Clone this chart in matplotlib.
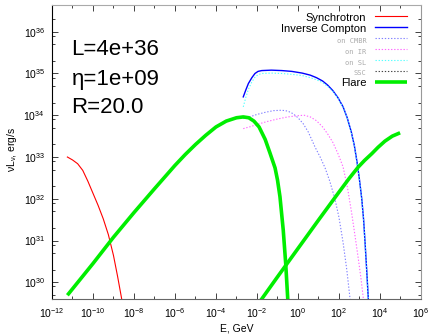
import numpy as np
import matplotlib
matplotlib.use("Agg")
import matplotlib.pyplot as plt
from matplotlib.ticker import LogLocator, FuncFormatter, NullFormatter

plt.rcParams["font.family"] = ["Liberation Sans", "DejaVu Sans"]
plt.rcParams["mathtext.fontset"] = "custom"
plt.rcParams["mathtext.rm"] = "Liberation Sans"
plt.rcParams["mathtext.it"] = "Liberation Sans:italic"
plt.rcParams["mathtext.default"] = "regular"

# Spectral components: log10(E / GeV) and log10(nu L_nu / erg s^-1)
sync_logE = [-11.25, -11.0, -10.75, -10.5, -10.25, -10.0, -9.75, -9.5, -9.25,
             -9.0, -8.8, -8.6, -8.5]
sync_logL = [33.00, 32.93, 32.84, 32.68, 32.42, 32.13, 31.84, 31.52, 31.14,
             30.64, 30.14, 29.6, 29.3]

ic_logE = [-2.67, -2.55, -2.42, -2.25, -2.1, -1.95, -1.77, -1.3, -0.79, -0.3,
           0.2, 0.6, 0.9, 1.2, 1.45, 1.7, 1.95, 2.2, 2.4, 2.6, 2.75, 2.88,
           3.0, 3.11, 3.2, 3.27, 3.35, 3.43, 3.48]
ic_logL = [34.44, 34.60, 34.76, 34.90, 35.00, 35.05, 35.07, 35.08, 35.07,
           35.05, 35.01, 34.96, 34.90, 34.82, 34.72, 34.59, 34.42, 34.20,
           33.94, 33.60, 33.27, 32.88, 32.45, 32.0, 31.5, 30.96, 30.3, 29.6,
           29.2]

cmbr_logE = [-2.67, -2.3, -2.0, -1.6, -1.2, -0.79, -0.5, -0.25, 0.0, 0.25,
             0.5, 0.83, 1.1, 1.32, 1.55, 1.8, 2.0, 2.2, 2.38, 2.54, 2.62]
cmbr_logL = [33.92, 33.97, 34.02, 34.07, 34.11, 34.12, 34.10, 34.04, 33.94,
             33.80, 33.60, 33.24, 32.98, 32.74, 32.42, 32.0, 31.55, 30.95,
             30.3, 29.6, 29.25]

ir_logE = [-2.67, -2.3, -2.0, -1.5, -1.0, -0.5, 0.0, 0.3, 0.6, 0.9, 1.2,
           1.45, 1.7, 1.95, 2.2, 2.42, 2.62, 2.8, 2.94, 3.07, 3.19, 3.25]
ir_logL = [33.68, 33.73, 33.78, 33.85, 33.91, 33.96, 33.99, 34.0, 33.96,
           33.87, 33.72, 33.55, 33.35, 33.08, 32.76, 32.25, 31.65, 31.05,
           30.57, 30.1, 29.6, 29.3]

sl_logE = [-2.67, -2.55, -2.42, -2.25, -2.1, -1.95, -1.77, -1.3, -0.79, -0.3,
           0.2, 0.6, 0.9, 1.2, 1.45, 1.7, 1.95, 2.2, 2.4, 2.6, 2.75, 2.88,
           3.0, 3.11, 3.2, 3.27, 3.35, 3.43, 3.48]
sl_logL = [34.20, 34.42, 34.62, 34.80, 34.91, 34.97, 35.00, 35.01, 35.00,
           34.98, 34.95, 34.90, 34.85, 34.78, 34.69, 34.57, 34.41, 34.19,
           33.93, 33.59, 33.26, 32.87, 32.44, 31.99, 31.49, 30.95, 30.29,
           29.59, 29.19]

flare1_logE = [-11.25, -10.0, -9.0, -8.0, -7.0, -6.0, -5.5, -5.0, -4.5, -4.0,
               -3.5, -3.0, -2.67, -2.4, -2.15, -1.9, -1.6, -1.37, -1.12, -1.0,
               -0.88, -0.72, -0.6, -0.5, -0.46]
flare1_logL = [29.69, 30.45, 31.08, 31.67, 32.24, 32.80, 33.06, 33.30, 33.52,
               33.72, 33.86, 33.94, 33.96, 33.94, 33.86, 33.72, 33.42, 33.10,
               32.74, 32.45, 32.05, 31.25, 30.45, 29.6, 29.3]

flare2_logE = [-1.95, -1.77, -1.0, 0.0, 1.0, 2.0, 2.5, 2.94, 3.25, 3.6, 3.9,
               4.24, 4.6, 4.98]
flare2_logL = [29.48, 29.6, 30.13, 30.81, 31.49, 32.16, 32.49, 32.76, 32.92,
               33.08, 33.23, 33.38, 33.50, 33.58]

params_text = ["L=4e+36", "\u03b7=1e+09", "R=20.0"]

fig = plt.figure(figsize=(4.31, 3.35), dpi=100)
ax = fig.add_axes([52 / 431, 1 - 299 / 335, 369 / 431, 294 / 335])


def pw(a):
    return 10.0 ** np.asarray(a)


dots = (0, (1.2, 1.6))
ax.plot(pw(sync_logE), pw(sync_logL), color="#ff0000", lw=0.8,
        label="Synchrotron")
ax.plot(pw(ic_logE), pw(ic_logL), color="#0000ff", lw=1.0,
        label="Inverse Compton")
ax.plot(pw(cmbr_logE), pw(cmbr_logL), color="#8080ff", lw=0.8, ls=dots,
        label="on CMBR")
ax.plot(pw(ir_logE), pw(ir_logL), color="#ff66ff", lw=0.8, ls=dots,
        label="on IR")
ax.plot(pw(sl_logE), pw(sl_logL), color="#55ffff", lw=0.8, ls=dots,
        label="on SL")
ax.plot([], [], color="#444444", lw=0.8, ls=dots, label="SSC")
ax.plot(pw(flare1_logE), pw(flare1_logL), color="#00ee00", lw=2.6,
        label="Flare", solid_capstyle="butt")
ax.plot(pw(flare2_logE), pw(flare2_logL), color="#00ee00", lw=2.6,
        solid_capstyle="butt")

ax.set_xscale("log")
ax.set_yscale("log")
ax.set_xlim(1e-12, 1e6)
ax.set_ylim(10 ** 29.6, 10 ** 36.64)

fmt = FuncFormatter(lambda v, p: r"$10^{%d}$" % round(np.log10(v)))
ax.xaxis.set_major_locator(LogLocator(base=100.0, numticks=20))
ax.xaxis.set_minor_locator(LogLocator(base=100.0, subs=(10.0,), numticks=20))
ax.xaxis.set_major_formatter(fmt)
ax.xaxis.set_minor_formatter(NullFormatter())
ax.yaxis.set_major_locator(LogLocator(base=10.0, numticks=20))
ax.yaxis.set_minor_locator(LogLocator(base=10.0, subs=(2.0, 5.0, 8.0),
                                      numticks=20))
ax.yaxis.set_major_formatter(fmt)
ax.yaxis.set_minor_formatter(NullFormatter())

ax.tick_params(which="both", direction="in", top=True, right=True,
               labelsize=7.5, width=0.6, color="#222222")
ax.tick_params(which="major", length=4.0, pad=5)
ax.tick_params(which="minor", length=2.2)

ax.spines["left"].set_color("#000000")
ax.spines["bottom"].set_color("#666666")
ax.spines["top"].set_color("#aaaaaa")
ax.spines["right"].set_color("#999999")
for s in ax.spines.values():
    s.set_linewidth(0.8)

ax.set_xlabel("E, GeV", fontsize=7.5)
ax.set_ylabel(r"$\nu L_\nu$, erg/s", fontsize=7.5)
ax.xaxis.set_label_coords(0.5, -0.082)
ax.yaxis.set_label_coords(-0.089, 0.51)

for txt, yf in zip(params_text, [0.847, 0.748, 0.65]):
    ax.text(0.053, yf, txt, transform=ax.transAxes, fontsize=16,
            va="center", ha="left")

leg = ax.legend(loc="upper right", bbox_to_anchor=(0.962, 0.978),
                markerfirst=False, frameon=False, fontsize=8,
                handlelength=2.9, handleheight=1.12, handletextpad=0.75,
                labelspacing=0.0, borderaxespad=0.0, borderpad=0.0)
for t in leg.get_texts():
    if t.get_text() in ("on CMBR", "on IR", "on SL", "SSC"):
        t.set_fontsize(5)
        t.set_color("#aaaaaa")
        t.set_family("DejaVu Sans Mono")
for h in leg.get_lines():
    if h.get_label() == "Flare":
        h.set_linewidth(2.6)

fig.savefig("out.png", dpi=100)
